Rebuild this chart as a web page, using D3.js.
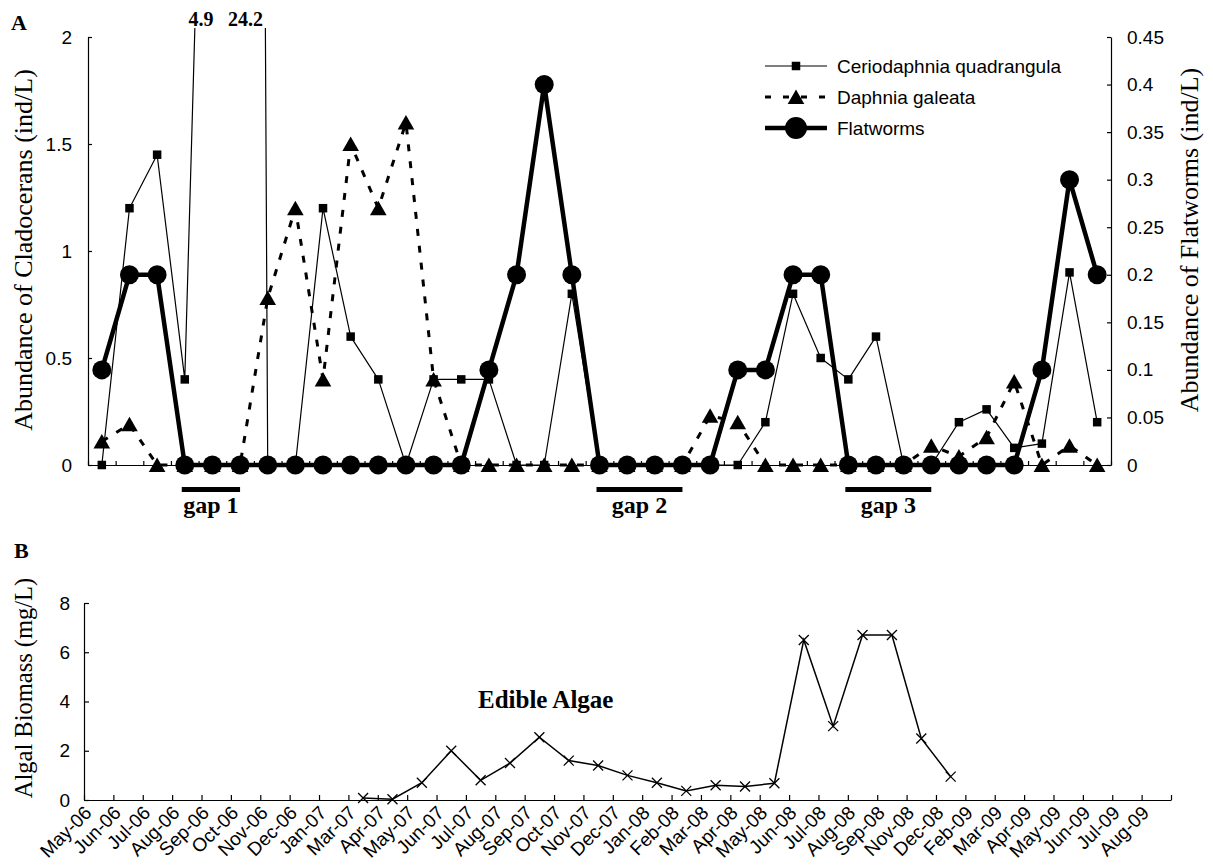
<!DOCTYPE html>
<html>
<head>
<meta charset="utf-8">
<script src="https://cdn.jsdelivr.net/npm/d3@7"></script>
<style>
  body { margin: 0; background: #fff; }
  svg { display: block; }
  .tick text { font-family: "Liberation Sans", Arial, sans-serif; font-size: 19px; fill: #000; }
  .tick line, .domain { stroke: #000; stroke-width: 1.2; }
  .serif { font-family: "Liberation Serif", "Times New Roman", serif; fill: #000; }
  .sans { font-family: "Liberation Sans", Arial, sans-serif; fill: #000; }
</style>
</head>
<body>
<svg id="chart" width="1213" height="866"></svg>
<script>
const months = ["May-06", "Jun-06", "Jul-06", "Aug-06", "Sep-06", "Oct-06", "Nov-06", "Dec-06",
  "Jan-07", "Mar-07", "Apr-07", "May-07", "Jun-07", "Jul-07", "Aug-07", "Sep-07", "Oct-07", "Nov-07", "Dec-07",
  "Jan-08", "Feb-08", "Mar-08", "Apr-08", "May-08", "Jun-08", "Jul-08", "Aug-08", "Sep-08", "Nov-08", "Dec-08",
  "Feb-09", "Mar-09", "Apr-09", "May-09", "Jun-09", "Jul-09", "Aug-09"];

const ceriodaphnia = [0, 1.2, 1.45, 0.4, 4.9, 24.2, 0, 0, 1.2, 0.6, 0.4, 0, 0.4, 0.4, 0.4, 0, 0, 0.8, 0,
  0, 0, 0, 0, 0, 0.2, 0.8, 0.5, 0.4, 0.6, 0, 0, 0.2, 0.26, 0.08, 0.1, 0.9, 0.2];
const daphnia = [0.11, 0.19, 0, 0, 0, 0, 0.78, 1.2, 0.4, 1.5, 1.2, 1.6, 0.4, 0, 0, 0, 0, 0, 0,
  0, 0, 0, 0.23, 0.2, 0, 0, 0, 0, 0, 0, 0.09, 0.04, 0.13, 0.39, 0, 0.09, 0];
const flatworms = [0.1, 0.2, 0.2, 0, 0, 0, 0, 0, 0, 0, 0, 0, 0, 0, 0.1, 0.2, 0.4, 0.2, 0,
  0, 0, 0, 0, 0.1, 0.1, 0.2, 0.2, 0, 0, 0, 0, 0, 0, 0, 0.1, 0.3, 0.2];
const edibleAlgae = [null, null, null, null, null, null, null, null, null,
  0.08, 0.03, 0.7, 2.0, 0.8, 1.5, 2.55, 1.6, 1.4, 1.0, 0.7, 0.37, 0.6, 0.55, 0.68,
  6.5, 3.0, 6.7, 6.7, 2.5, 0.95, null, null, null, null, null, null, null];

const leftTicks = [0, 0.5, 1, 1.5, 2];
const rightTicks = [0, 0.05, 0.1, 0.15, 0.2, 0.25, 0.3, 0.35, 0.4, 0.45];
const algaeTicks = [0, 2, 4, 6, 8];
const offScaleLabels = [{ index: 4, label: "4.9" }, { index: 5, label: "24.2" }];
const gaps = [
  { label: "gap 1", from: 3, to: 5 },
  { label: "gap 2", from: 18, to: 21 },
  { label: "gap 3", from: 27, to: 30 }
];
const legendNames = ["Ceriodaphnia quadrangula", "Daphnia galeata", "Flatworms"];

const svg = d3.select("#chart");
const A = { left: 88, right: 1111, top: 37, bottom: 465 };
const B = { left: 84, right: 1171, top: 603, bottom: 800 };
const n = months.length;

const xA = d3.scalePoint().domain(d3.range(n)).range([A.left, A.right]).padding(0.5);
const xAedge = d3.scaleLinear().domain([0, n]).range([A.left, A.right]);
const yLeft = d3.scaleLinear().domain([0, 2]).range([A.bottom, A.top]);
const yRight = d3.scaleLinear().domain([0, 0.45]).range([A.bottom, A.top]);

const xB = d3.scalePoint().domain(d3.range(n)).range([B.left, B.right]).padding(0.5);
const xBedge = d3.scaleLinear().domain([0, n]).range([B.left, B.right]);
const yB = d3.scaleLinear().domain([0, 8]).range([B.bottom, B.top]);

const fmt = (d) => String(d);

// ---- panel A axes
svg.append("g")
  .attr("transform", `translate(0,${A.bottom})`)
  .call(d3.axisBottom(xAedge).tickValues(d3.range(n + 1)).tickSize(-4).tickSizeOuter(0).tickFormat(""));
svg.append("g")
  .attr("transform", `translate(${A.left},0)`)
  .call(d3.axisLeft(yLeft).tickValues(leftTicks).tickSize(-4).tickSizeOuter(0).tickPadding(16).tickFormat(fmt));
svg.append("g")
  .attr("transform", `translate(${A.right},0)`)
  .call(d3.axisRight(yRight).tickValues(rightTicks).tickSize(-4).tickSizeOuter(0).tickPadding(16).tickFormat(fmt));

svg.append("defs").append("clipPath").attr("id", "clipA")
  .append("rect")
  .attr("x", A.left).attr("y", A.top - 9)
  .attr("width", A.right - A.left).attr("height", A.bottom - A.top + 40);

const plotA = svg.append("g").attr("clip-path", "url(#clipA)");

const trianglePath = "M0,-7.5L8.3,7L-8.3,7Z";

function drawMarker(g, shape, size) {
  if (shape === "square") {
    g.append("rect").attr("x", -size / 2).attr("y", -size / 2).attr("width", size).attr("height", size).attr("fill", "#000");
  } else if (shape === "triangle") {
    g.append("path").attr("d", trianglePath).attr("fill", "#000");
  } else if (shape === "circle") {
    g.append("circle").attr("r", size).attr("fill", "#000");
  }
}

function drawSeries(values, y, style) {
  const line = d3.line().x((d, i) => xA(i)).y((d) => y(d));
  plotA.append("path")
    .attr("d", line(values))
    .attr("fill", "none")
    .attr("stroke", "#000")
    .attr("stroke-width", style.width)
    .attr("stroke-dasharray", style.dash || null)
    .attr("stroke-linejoin", "round");
  plotA.append("g").selectAll("g")
    .data(values)
    .join("g")
    .attr("transform", (d, i) => `translate(${xA(i)},${y(d)})`)
    .each(function () { drawMarker(d3.select(this), style.shape, style.size); });
}

const styles = [
  { width: 1.2, shape: "square", size: 8.5 },
  { width: 3, shape: "triangle", size: 0, dash: "7,10" },
  { width: 4.5, shape: "circle", size: 9.5 }
];

drawSeries(ceriodaphnia, yLeft, styles[0]);
drawSeries(daphnia, yLeft, styles[1]);
drawSeries(flatworms, yRight, styles[2]);

// off-scale values
svg.append("g").selectAll("text")
  .data(offScaleLabels)
  .join("text")
  .attr("class", "serif")
  .attr("x", (d, i) => xA(d.index) + (i === 0 ? -24 : -12))
  .attr("y", 26)
  .attr("font-size", 20)
  .attr("font-weight", "bold")
  .text((d) => d.label);

// gaps
const gapG = svg.append("g").selectAll("g").data(gaps).join("g");
gapG.append("rect")
  .attr("x", (d) => xA(d.from) - 3)
  .attr("y", 487)
  .attr("width", (d) => xA(d.to) - xA(d.from) + 3)
  .attr("height", 5)
  .attr("fill", "#000");
gapG.append("text")
  .attr("class", "serif")
  .attr("x", (d) => (xA(d.from) - 3 + xA(d.to)) / 2)
  .attr("y", 513)
  .attr("text-anchor", "middle")
  .attr("font-size", 24)
  .attr("font-weight", "bold")
  .text((d) => d.label);

// legend
const legend = svg.append("g").attr("transform", "translate(765,66)");
const legendRows = legend.selectAll("g")
  .data(legendNames)
  .join("g")
  .attr("transform", (d, i) => `translate(0,${i * 31})`);
legendRows.append("line")
  .attr("x1", 0).attr("x2", 62)
  .attr("stroke", "#000")
  .attr("stroke-width", (d, i) => styles[i].width)
  .attr("stroke-dasharray", (d, i) => styles[i].dash ? "6,12" : null);
legendRows.each(function (d, i) {
  const m = d3.select(this).append("g").attr("transform", "translate(31,0)");
  drawMarker(m, styles[i].shape, i === 2 ? 11 : styles[i].size);
});
legendRows.append("text")
  .attr("class", "sans")
  .attr("x", 72)
  .attr("dy", "0.35em")
  .attr("font-size", 19)
  .text((d) => d);

// titles A
svg.append("text").attr("class", "serif")
  .attr("x", 11).attr("y", 30)
  .attr("font-size", 22).attr("font-weight", "bold")
  .text("A");
svg.append("text").attr("class", "serif")
  .attr("transform", "translate(32,250) rotate(-90)")
  .attr("text-anchor", "middle")
  .attr("font-size", 26)
  .text("Abundance of Cladocerans (ind/L)");
svg.append("text").attr("class", "serif")
  .attr("transform", "translate(1198,240) rotate(-90)")
  .attr("text-anchor", "middle")
  .attr("font-size", 26)
  .text("Abundance of Flatworms (ind/L)");

// ---- panel B
svg.append("g")
  .attr("transform", `translate(0,${B.bottom})`)
  .call(d3.axisBottom(xBedge).tickValues(d3.range(n + 1)).tickSize(-5).tickSizeOuter(0).tickFormat(""));
svg.append("g")
  .attr("transform", `translate(${B.left},0)`)
  .call(d3.axisLeft(yB).tickValues(algaeTicks).tickSize(-5).tickSizeOuter(0).tickPadding(14).tickFormat(fmt));

svg.append("g").selectAll("text")
  .data(months)
  .join("text")
  .attr("class", "sans")
  .attr("font-size", 19)
  .attr("text-anchor", "end")
  .attr("transform", (d, i) => `translate(${xB(i) - 6},${B.bottom + 14}) rotate(-45)`)
  .text((d) => d);

const algaePts = edibleAlgae.map((v, i) => ({ i, v })).filter((d) => d.v !== null);
svg.append("path")
  .attr("d", d3.line().x((d) => xB(d.i)).y((d) => yB(d.v))(algaePts))
  .attr("fill", "none")
  .attr("stroke", "#000")
  .attr("stroke-width", 1.5);
svg.append("g").selectAll("path")
  .data(algaePts)
  .join("path")
  .attr("transform", (d) => `translate(${xB(d.i)},${yB(d.v)})`)
  .attr("d", "M-5,-5L5,5M-5,5L5,-5")
  .attr("stroke", "#000")
  .attr("stroke-width", 1.3);

svg.append("text").attr("class", "serif")
  .attr("x", 478).attr("y", 708)
  .attr("font-size", 25).attr("font-weight", "bold")
  .text("Edible Algae");

svg.append("text").attr("class", "serif")
  .attr("x", 14).attr("y", 558)
  .attr("font-size", 22).attr("font-weight", "bold")
  .text("B");
svg.append("text").attr("class", "serif")
  .attr("transform", "translate(32,688) rotate(-90)")
  .attr("text-anchor", "middle")
  .attr("font-size", 24.5)
  .text("Algal Biomass (mg/L)");
</script>
</body>
</html>
